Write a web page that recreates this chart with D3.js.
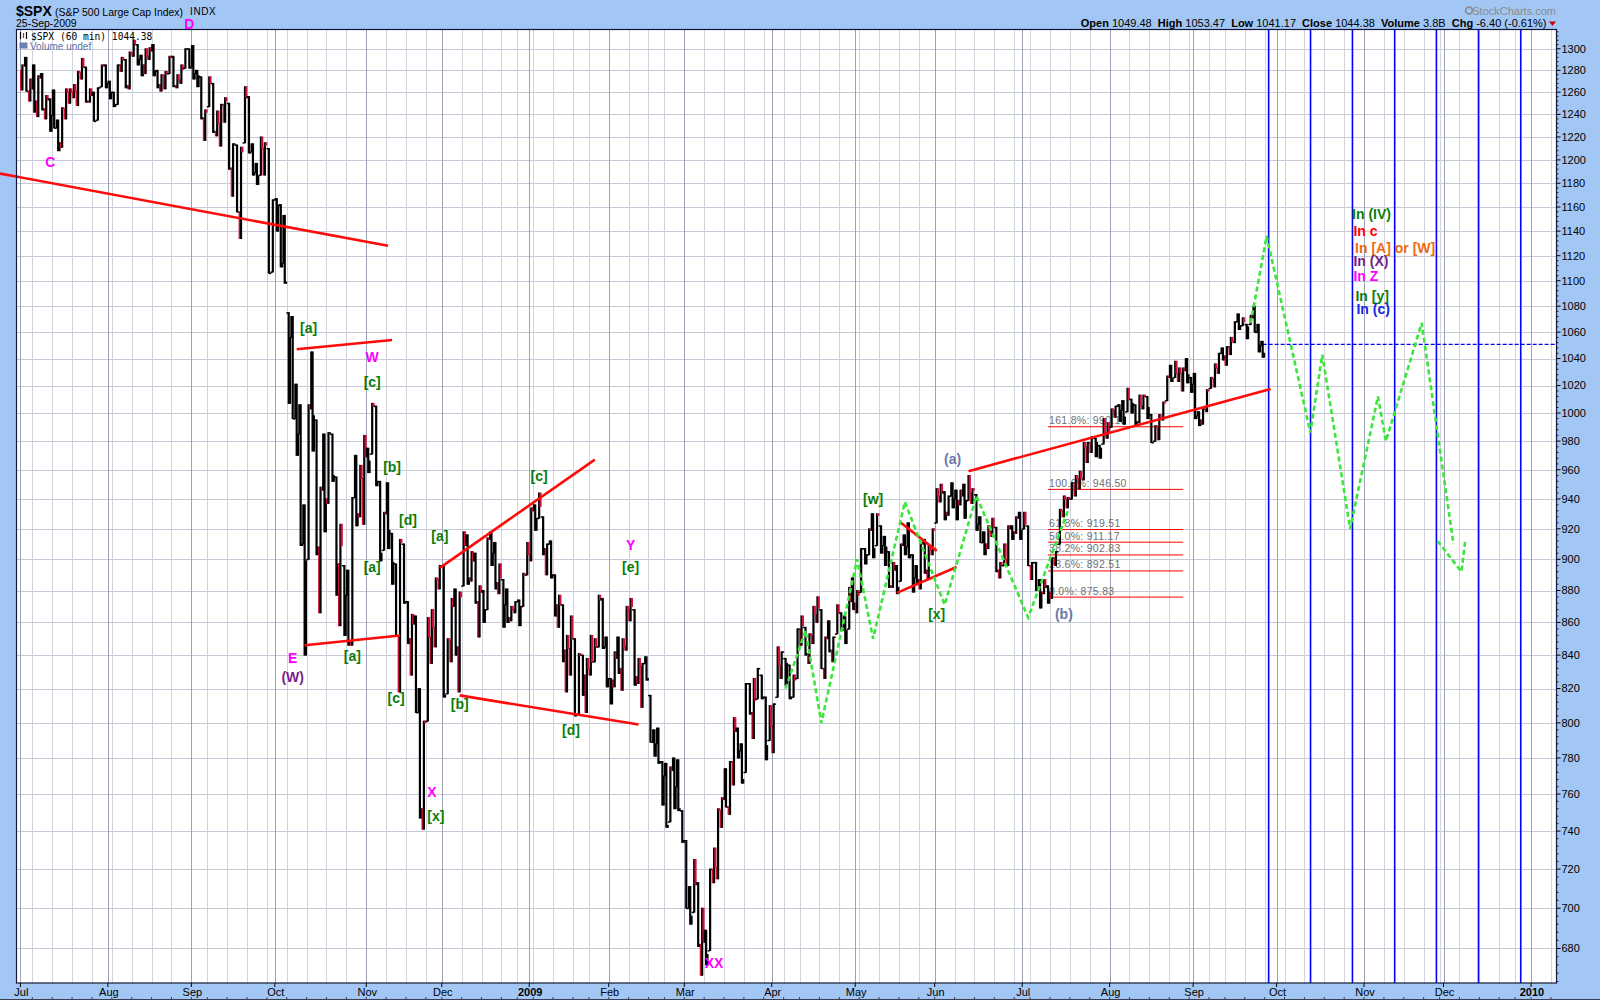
<!DOCTYPE html>
<html><head><meta charset="utf-8">
<script src="https://cdn.jsdelivr.net/npm/d3@7"></script>
<style>
body{margin:0;background:#a3c7f5;}
svg{display:block;font-family:"Liberation Sans",Arial,sans-serif;}
</style></head><body>
<svg id="chart" width="1600" height="1000"></svg>
<script>
// ---------------- DATA ----------------
const holidays = ["2008-07-04","2008-09-01","2008-11-27","2008-12-25","2009-01-01","2009-01-19","2009-02-16",
  "2009-04-10","2009-05-25","2009-07-03","2009-09-07","2009-11-26","2009-12-25","2010-01-01","2010-01-18"];
const firstClose = 1280; // close before the first bar
// daily [high, low, close], one entry per trading day
const jul08 = [[1285,1262,1284],[1292,1261,1261],[1272,1252,1263],[1285,1242,1252],[1275,1238,1273],[1277,1244,1245],[1257,1236,1253],[1254,1225,1239],[1262,1228,1228],[1235,1208,1215],[1246,1211,1245],[1263,1236,1260],[1263,1250,1260],[1267,1255,1261],[1279,1248,1278],[1291,1272,1283],[1283,1251,1252],[1263,1251,1257],[1260,1234,1234],[1264,1235,1264],[1285,1265,1284],[1285,1264,1268]];
const aug08 = [[1270,1254,1260],[1260,1247,1249],[1285,1249,1285],[1292,1279,1290],[1290,1264,1266],[1297,1263,1296],[1308,1293,1305],[1304,1285,1290],[1294,1275,1285],[1300,1277,1293],[1301,1290,1298],[1304,1275,1279],[1280,1264,1267],[1276,1261,1275],[1279,1263,1277],[1293,1277,1292],[1293,1265,1266],[1276,1264,1271],[1285,1268,1281],[1300,1282,1300],[1300,1282,1283]];
const sep08 = [[1303,1272,1277],[1280,1265,1275],[1274,1236,1237],[1244,1217,1242],[1274,1247,1268],[1268,1224,1225],[1243,1221,1232],[1249,1212,1249],[1255,1233,1252],[1250,1192,1193],[1214,1169,1214],[1213,1156,1156],[1211,1134,1207],[1265,1215,1255],[1256,1206,1207],[1214,1187,1189],[1197,1179,1186],[1220,1187,1210],[1215,1187,1213],[1210,1106,1106],[1166,1107,1166]];
const oct08 = [[1167,1140,1161],[1162,1111,1114],[1153,1098,1099],[1075,1007,1056],[1072,996,996],[1021,970,985],[1006,909,910],[936,840,899],[1006,900,1003],[1045,973,998],[995,903,908],[948,866,946],[985,918,940],[986,937,986],[985,952,956],[955,877,897],[923,858,909],[896,852,877],[893,846,848],[941,846,941],[970,922,930],[963,928,954],[984,923,969]];
const nov08 = [[975,958,966],[1007,971,1005],[1005,949,952],[952,899,904],[931,906,930],[951,907,919],[917,884,898],[897,852,852],[913,818,911],[910,872,873],[873,847,850],[865,828,859],[864,806,806],[820,747,752],[801,741,800],[863,801,851],[868,835,857],[888,845,887],[896,881,896]];
const dec08 = [[896,815,816],[850,817,849],[875,836,870],[881,840,845],[879,818,876],[918,883,909],[916,884,888],[905,886,899],[904,872,873],[883,851,879],[880,860,868],[914,868,913],[918,896,904],[911,881,885],[897,878,888],[887,857,871],[881,860,863],[870,861,868],[873,866,873],[874,858,870],[891,870,890],[911,890,903]];
const jan09 = [[934,899,932],[936,919,927],[944,927,935],[928,903,907],[910,890,910],[912,888,890],[890,864,871],[877,857,871],[871,836,843],[852,818,844],[864,828,850],[850,804,805],[841,805,840],[840,816,828],[838,806,832],[852,828,836],[850,836,845],[877,845,874],[875,844,845],[851,821,826]];
const feb09 = [[826,811,825],[842,821,838],[851,829,832],[850,819,845],[870,843,868],[875,861,870],[868,822,827],[838,823,833],[835,809,835],[839,825,826],[816,789,789],[796,781,788],[797,777,778],[778,754,770],[777,742,743],[775,745,773],[780,752,764],[779,751,752],[751,734,735]];
const mar09 = [[735,700,700],[711,692,696],[725,698,712],[713,681,682],[700,667,683],[689,672,677],[720,679,720],[731,713,721],[752,715,751],[758,742,757],[774,753,753],[778,749,778],[803,765,795],[797,780,784],[788,766,768],[823,772,823],[823,805,806],[826,791,813],[832,814,832],[828,814,815],[815,779,787],[810,790,798]];
const apr09 = [[811,783,811],[845,815,834],[842,826,842],[838,822,835],[834,814,815],[828,815,825],[856,826,856],[864,846,858],[857,840,841],[853,835,852],[870,847,865],[876,860,869],[868,832,832],[851,826,850],[861,842,843],[851,836,851],[871,853,866],[866,855,857],[864,847,855],[882,856,873],[888,868,872]];
const may09 = [[880,866,877],[907,879,907],[907,897,903],[920,903,919],[930,901,907],[930,909,929],[922,904,909],[915,896,908],[905,882,883],[898,882,893],[896,878,882],[910,886,909],[916,903,908],[924,901,903],[903,879,888],[896,884,887],[911,881,910],[913,891,893],[909,887,906],[920,903,919]];
const jun09 = [[947,924,942],[950,938,944],[945,926,931],[942,929,942],[951,934,940],[946,926,939],[946,936,942],[950,927,939],[956,939,944],[947,937,946],[943,919,923],[928,911,911],[918,903,910],[922,907,918],[927,915,921],[921,892,893],[898,888,896],[910,896,900],[922,896,920],[922,913,918],[928,917,927],[931,913,919]];
const jul09 = [[931,920,923],[922,896,896],[898,887,898],[898,880,881],[887,869,879],[887,878,882],[883,872,879],[901,875,901],[905,896,905],[933,910,932],[942,928,940],[941,934,940],[951,940,951],[956,942,954],[959,947,954],[979,953,976],[979,965,979],[983,972,982],[982,969,979],[977,968,975],[996,978,986],[993,982,987]];
const aug09 = [[1003,990,1002],[1005,997,1005],[1006,994,1002],[1009,992,997],[1018,1001,1010],[1010,1000,1007],[1006,991,994],[1013,993,1005],[1013,1003,1012],[1012,996,1004],[999,979,979],[991,980,990],[999,981,996],[1008,995,1007],[1027,1009,1026],[1035,1023,1025],[1038,1026,1029],[1033,1023,1029],[1033,1016,1031],[1040,1022,1028],[1026,1015,1021]];
const sep09 = [[1029,996,998],[1001,991,995],[1003,992,1003],[1017,1001,1016],[1026,1018,1025],[1036,1019,1033],[1044,1029,1044],[1048,1039,1042],[1049,1035,1049],[1056,1043,1053],[1068,1052,1068],[1074,1062,1065],[1071,1065,1068],[1066,1055,1064],[1073,1066,1071],[1080,1060,1060],[1066,1045,1050],[1053,1041,1044]];
const priceMonths = [["2008-07",jul08],["2008-08",aug08],["2008-09",sep08],["2008-10",oct08],["2008-11",nov08],["2008-12",dec08],
  ["2009-01",jan09],["2009-02",feb09],["2009-03",mar09],["2009-04",apr09],["2009-05",may09],["2009-06",jun09],
  ["2009-07",jul09],["2009-08",aug09],["2009-09",sep09]];

const priceTicks = [680,700,720,740,760,780,800,820,840,860,880,900,920,940,960,980,1000,1020,1040,1060,1080,1100,1120,1140,1160,1180,1200,1220,1240,1260,1280,1300];
const monthLabels = ["Jul","Aug","Sep","Oct","Nov","Dec","2009","Feb","Mar","Apr","May","Jun","Jul","Aug","Sep","Oct","Nov","Dec","2010"];
const monthKeys = ["2008-07","2008-08","2008-09","2008-10","2008-11","2008-12","2009-01","2009-02","2009-03","2009-04","2009-05","2009-06","2009-07","2009-08","2009-09","2009-10","2009-11","2009-12","2010-01"];

const trendLines = [
  [["2008-06-23",1188.5],["2008-11-10",1128]],
  [["2008-10-08",1047],["2008-11-11",1054]],
  [["2008-10-10",846],["2008-11-13",852]],
  [["2008-11-28",894.5],["2009-01-27",967]],
  [["2008-12-05",816],["2009-02-11",799]],
  [["2009-05-18",924],["2009-06-01",905.5]],
  [["2009-05-15",878.5],["2009-06-08",895]],
  [["2009-06-11",959],["2009-09-29",1017.5]]
];
const fibStart = "2009-07-10", fibEnd = "2009-08-27";
const fibLevels = [["161.8%",990.18],["100.0%",946.50],["61.8%",919.51],["50.0%",911.17],["38.2%",902.83],["23.6%",892.51],["0.0%",875.83]];

const greenPath1 = [["2009-04-06",820],["2009-04-14",855],["2009-04-20",800],["2009-05-01",900],["2009-05-07",850],["2009-05-19",938],["2009-06-03",871],["2009-06-15",942],["2009-07-02",863],["2009-07-17",932]];
const greenPath2 = [["2009-09-22",1067],["2009-09-28",1136],["2009-10-13",986],["2009-10-16",1043],["2009-10-27",920],["2009-11-05",1012],["2009-11-09",980],["2009-11-20",1067],["2009-12-03",910]];
const greenPath3 = [["2009-11-27",912],["2009-12-07",892],["2009-12-08",913]];

const cycleDates = ["2009-09-29T00:00","2009-10-13T13:00","2009-10-28T02:00","2009-11-11T17:00","2009-11-27T05:00","2009-12-11T19:00","2009-12-29T10:00"];
const prevClose = 1050.78, lastBarDate = "2009-09-25";

const waveLabels = [
  ["C","#ff00ff","2008-07-11",1198],["D","#ff00ff","2008-08-29",1323],
  ["[a]","#0b7d0b","2008-10-13",1063],["W","#ff00ff","2008-11-04",1041],["[c]","#0b7d0b","2008-11-04",1023],
  ["[b]","#0b7d0b","2008-11-11",962],["[d]","#0b7d0b","2008-11-17",926],["[a]","#0b7d0b","2008-11-04",895],
  ["E","#ff00ff","2008-10-07",838],["(W)","#7a1f8c","2008-10-07",827],["[a]","#0b7d0b","2008-10-28",839.5],
  ["[c]","#0b7d0b","2008-11-12",814.5],["X","#ff00ff","2008-11-25",761],["[x]","#0b7d0b","2008-11-26",748],
  ["[a]","#0b7d0b","2008-11-28",915],["[b]","#0b7d0b","2008-12-05",811],["[c]","#0b7d0b","2009-01-06",956],
  ["Y","#ff00ff","2009-02-09",909.5],["[e]","#0b7d0b","2009-02-09",895],["[d]","#0b7d0b","2009-01-16",796],
  ["XX","#ff00ff","2009-03-11",673],["[w]","#0b7d0b","2009-05-07",940],["[x]","#0b7d0b","2009-06-01",865],
  ["(a)","#6a7aa8","2009-06-05",967.6],["(b)","#6a7aa8","2009-07-16",865]
];
const scenarioLabels = [
  ["In (IV)","#0b7d0b","2009-10-28T00:00",1154],
  ["In c","#ff0000","2009-10-28T08:00",1140.5],
  ["In [A] or [W]","#f26b10","2009-10-28T18:00",1126.5],
  ["In (X)","#6e1e86","2009-10-28T08:00",1116],
  ["In Z","#ff00ff","2009-10-28T08:00",1104],
  ["In [y]","#0b7d0b","2009-10-28T20:00",1088],
  ["In (c)","#1525e0","2009-10-29T02:00",1078]
];
const quote = [["Open","1049.48"],["High","1053.47"],["Low","1041.17"],["Close","1044.38"],["Volume","3.8B"],["Chg","-6.40 (-0.61%)"]];

// ---------------- CALENDAR ----------------
const cal = (() => {
  const out = [], hol = new Set(holidays);
  const d = new Date(Date.UTC(2008,5,23)), end = new Date(Date.UTC(2010,0,29));
  while (d <= end) {
    const wd = d.getUTCDay(), s = d.toISOString().slice(0,10);
    if (wd > 0 && wd < 6 && !hol.has(s)) out.push(s);
    d.setUTCDate(d.getUTCDate()+1);
  }
  return out;
})();
const base = cal.indexOf("2008-07-01");
const idxOf = new Map(cal.map((s,i)=>[s,i-base]));
function tpos(str){
  const [dp,tp] = str.split("T");
  const i = idxOf.get(dp);
  const frac = tp ? (+tp.slice(0,2) + (+tp.slice(3,5))/60)/24 : 0.5;
  return i + frac;
}

// ---------------- SCALES ----------------
const P = {l:16.5, t:29.5, r:1556.5, b:983};
const x = d3.scaleLinear().domain([0, idxOf.get("2010-01-04")]).range([20.4, 1531]);
const y = d3.scaleLog().domain([663.3, 1318.2]).range([P.b, P.t]);
const xp = s => x(tpos(s));

const svg = d3.select("#chart");
svg.append("rect").attr("width",1600).attr("height",1000).attr("fill","#a3c7f5");
svg.append("defs").append("clipPath").attr("id","clip").append("rect")
  .attr("x",P.l).attr("y",P.t).attr("width",P.r-P.l).attr("height",P.b-P.t);
svg.append("rect").attr("x",P.l).attr("y",P.t).attr("width",P.r-P.l).attr("height",P.b-P.t).attr("fill","#fff");

const g = svg.append("g").attr("clip-path","url(#clip)");

// grid horizontal
g.selectAll(".hg").data(priceTicks).join("line")
  .attr("x1",P.l).attr("x2",P.r).attr("y1",d=>Math.round(y(d))+0.5).attr("y2",d=>Math.round(y(d))+0.5)
  .attr("stroke","#c8c9d8").attr("stroke-width",1);

// weekly & monthly vertical grid
const dayIdx = cal.map((s,i)=>({s, i:i-base}));
const weekStarts = dayIdx.filter((d,k)=> k>0 && new Date(d.s+"T00:00Z").getUTCDay() <= new Date(dayIdx[k-1].s+"T00:00Z").getUTCDay());
g.selectAll(".wg").data(weekStarts).join("line")
  .attr("x1",d=>Math.round(x(d.i))+0.5).attr("x2",d=>Math.round(x(d.i))+0.5).attr("y1",P.t).attr("y2",P.b)
  .attr("stroke","#d2d3df").attr("stroke-width",1);
const monthStarts = monthKeys.map((m,k)=>({label:monthLabels[k], i: dayIdx.find(d=>d.s.startsWith(m)).i}));
g.selectAll(".mg").data(monthStarts).join("line")
  .attr("x1",d=>Math.round(x(d.i))+0.5).attr("x2",d=>Math.round(x(d.i))+0.5).attr("y1",P.t).attr("y2",P.b)
  .attr("stroke","#9ba3b6").attr("stroke-width",1);

// cycle lines
g.selectAll(".cy").data(cycleDates).join("line")
  .attr("x1",d=>xp(d)).attr("x2",d=>xp(d)).attr("y1",P.t).attr("y2",P.b)
  .attr("stroke","#0000ff").attr("stroke-width",1.6);

// prev close dashed
g.append("line").attr("x1",xp(lastBarDate)).attr("x2",P.r).attr("y1",y(prevClose)).attr("y2",y(prevClose))
  .attr("stroke","#0000ee").attr("stroke-width",1.2).attr("stroke-dasharray","4,2");

// fib
const fx1 = xp(fibStart), fx2 = xp(fibEnd);
g.selectAll(".fl").data(fibLevels).join("line")
  .attr("x1",fx1).attr("x2",fx2).attr("y1",d=>y(d[1])).attr("y2",d=>y(d[1]))
  .attr("stroke","#ff0000").attr("stroke-width",1);
g.selectAll(".ft").data(fibLevels).join("text")
  .attr("x",fx1+1).attr("y",d=>y(d[1])-2.5).attr("font-size",10.5).attr("fill","#707070")
  .attr("letter-spacing",0.3)
  .text(d=>`${d[0]}: ${d[1].toFixed(2)}`);

// price bars: each day drawn as three sub-bars following open -> extreme -> extreme -> close
const bars = [];
let prev = firstClose;
priceMonths.forEach(([m, arr]) => {
  const days = cal.filter(s=>s.startsWith(m));
  arr.forEach((v,k) => {
    bars.push({i: idxOf.get(days[k]), h:v[0], l:v[1], c:v[2], o:Math.min(v[0],Math.max(v[1],prev))});
    prev = v[2];
  });
});
const segs = [];
bars.forEach(d => {
  const up = d.c >= d.o;
  const seq = up ? [d.o, d.l, d.h, d.c] : [d.o, d.h, d.l, d.c];
  [0.17, 0.5, 0.83].forEach((off,k) => {
    const a = seq[k], b = seq[k+1];
    segs.push({xc: x(d.i+off), top: Math.max(a,b), bot: Math.min(a,b), red: k!==1 && b < a});
  });
});
const bg = g.append("g");
bg.selectAll("rect").data(segs).join("rect")
  .attr("x",d=>d.xc-1.1).attr("width",2.2)
  .attr("y",d=>y(d.top)-0.5).attr("height",d=>Math.max(1.5,y(d.bot)-y(d.top)+1))
  .attr("fill",d=>d.red?"#d0103a":"#000");

// trend lines
g.selectAll(".tl").data(trendLines).join("line")
  .attr("x1",d=>xp(d[0][0])).attr("y1",d=>y(d[0][1]))
  .attr("x2",d=>xp(d[1][0])).attr("y2",d=>y(d[1][1]))
  .attr("stroke","#ff0a0a").attr("stroke-width",2.6);
// first trendline extends over left margin
{
  const [a,b] = trendLines[0];
  const x0 = xp(a[0]), y0 = y(a[1]), s = (y(b[1])-y0)/(xp(b[0])-x0);
  svg.append("line").attr("x1",0).attr("x2",P.l+1).attr("y1",y0+(0-x0)*s).attr("y2",y0+(P.l+1-x0)*s)
    .attr("stroke","#ff0a0a").attr("stroke-width",2.6);
}

// green projection paths
const gl = d3.line().x(d=>xp(d[0])).y(d=>y(d[1]));
[greenPath1, greenPath2, greenPath3].forEach(p => {
  g.append("path").attr("d",gl(p)).attr("fill","none").attr("stroke","#3ae63a")
    .attr("stroke-width",2.6).attr("stroke-dasharray","5,3");
});

// borders
svg.append("rect").attr("x",P.l).attr("y",P.t).attr("width",P.r-P.l).attr("height",P.b-P.t)
  .attr("fill","none").attr("stroke","#14183a").attr("stroke-width",1.2);

// right axis
const ax = svg.append("g");
ax.selectAll(".tk").data(priceTicks).join("line")
  .attr("x1",P.r).attr("x2",P.r+4).attr("y1",d=>y(d)).attr("y2",d=>y(d)).attr("stroke","#000");
const minor = [];
for (let v = 664; v <= 1316; v += 4) if (v % 20 !== 0) minor.push(v);
ax.selectAll(".mk").data(minor).join("line")
  .attr("x1",P.r).attr("x2",P.r+2).attr("y1",d=>y(d)).attr("y2",d=>y(d)).attr("stroke","#000").attr("stroke-width",0.8);
ax.selectAll(".tl").data(priceTicks).join("text")
  .attr("x",P.r+5).attr("y",d=>y(d)).attr("dy","0.35em").attr("font-size",11).attr("fill","#000")
  .text(d=>d);

// bottom axis
svg.selectAll(".mt").data(monthStarts).join("line")
  .attr("x1",d=>x(d.i)).attr("x2",d=>x(d.i)).attr("y1",P.b).attr("y2",P.b+4).attr("stroke","#000");
svg.selectAll(".ml").data(monthStarts).join("text")
  .attr("x",d=>x(d.i)+1).attr("y",996).attr("text-anchor","middle").attr("font-size",11)
  .attr("font-weight",d=>/^\d/.test(d.label)?"bold":"normal").attr("fill","#000")
  .text(d=>d.label);
svg.append("line").attr("x1",0).attr("x2",1600).attr("y1",999.5).attr("y2",999.5).attr("stroke","#3a3f55");
svg.selectAll(".bt").data(weekStarts.filter(d=>x(d.i)>P.l && x(d.i)<P.r)).join("line")
  .attr("x1",d=>x(d.i)).attr("x2",d=>x(d.i)).attr("y1",997).attr("y2",1000).attr("stroke","#3a3f55");

// labels
svg.selectAll(".wl").data(waveLabels).join("text")
  .attr("x",d=>xp(d[2])).attr("y",d=>y(d[3])).attr("dy","0.36em").attr("text-anchor","middle")
  .attr("font-size",14).attr("font-weight","bold").attr("fill",d=>d[1]).text(d=>d[0]);
svg.selectAll(".sl").data(scenarioLabels).join("text")
  .attr("x",d=>xp(d[2])).attr("y",d=>y(d[3])).attr("dy","0.36em").attr("text-anchor","start")
  .attr("font-size",14).attr("font-weight","bold").attr("fill",d=>d[1]).text(d=>d[0]);

// header
svg.append("text").attr("x",16).attr("y",15.5).attr("font-size",14).attr("font-weight","bold").text("$SPX");
svg.append("text").attr("x",55).attr("y",15.5).attr("font-size",11).attr("textLength",128).attr("lengthAdjust","spacingAndGlyphs").text("(S&P 500 Large Cap Index)");
svg.append("text").attr("x",190).attr("y",14.5).attr("font-size",10).attr("letter-spacing",0.6).text("INDX");
svg.append("text").attr("x",16).attr("y",26.5).attr("font-size",10.5).text("25-Sep-2009");
const qt = svg.append("text").attr("x",1546.5).attr("y",27).attr("text-anchor","end").attr("font-size",11).attr("xml:space","preserve");
quote.forEach(([k,v],n) => {
  qt.append("tspan").attr("font-weight","bold").text((n?"  ":"")+k+" ");
  qt.append("tspan").text(v);
});
svg.append("path").attr("d","M1549,21.5 L1556,21.5 L1552.5,26 Z").attr("fill","#cc0000");
svg.append("circle").attr("cx",1469).attr("cy",10.5).attr("r",3.4).attr("fill","none").attr("stroke","#8c8c8c").attr("stroke-width",1.8);
svg.append("text").attr("x",1556).attr("y",14.5).attr("text-anchor","end").attr("font-size",11).attr("fill","#8a8a8a").text("StockCharts.com");

// legend inside plot
const lg = svg.append("g");
lg.append("line").attr("x1",20.5).attr("x2",20.5).attr("y1",32).attr("y2",39).attr("stroke","#000").attr("stroke-width",1.2);
lg.append("line").attr("x1",23.5).attr("x2",23.5).attr("y1",33).attr("y2",38).attr("stroke","#d0103a").attr("stroke-width",1.2);
lg.append("line").attr("x1",26.5).attr("x2",26.5).attr("y1",32).attr("y2",39).attr("stroke","#000").attr("stroke-width",1.2);
lg.append("text").attr("x",31).attr("y",39.5).attr("font-family","DejaVu Sans Mono, monospace").attr("font-size",9.6).attr("fill","#000").text("$SPX (60 min) 1044.38");
lg.append("rect").attr("x",19.5).attr("y",42.5).attr("width",8).attr("height",6).attr("fill","#6b7fb3");
lg.append("text").attr("x",30).attr("y",49.5).attr("font-size",10).attr("fill","#5b6fa6").text("Volume undef");
</script>
</body></html>
